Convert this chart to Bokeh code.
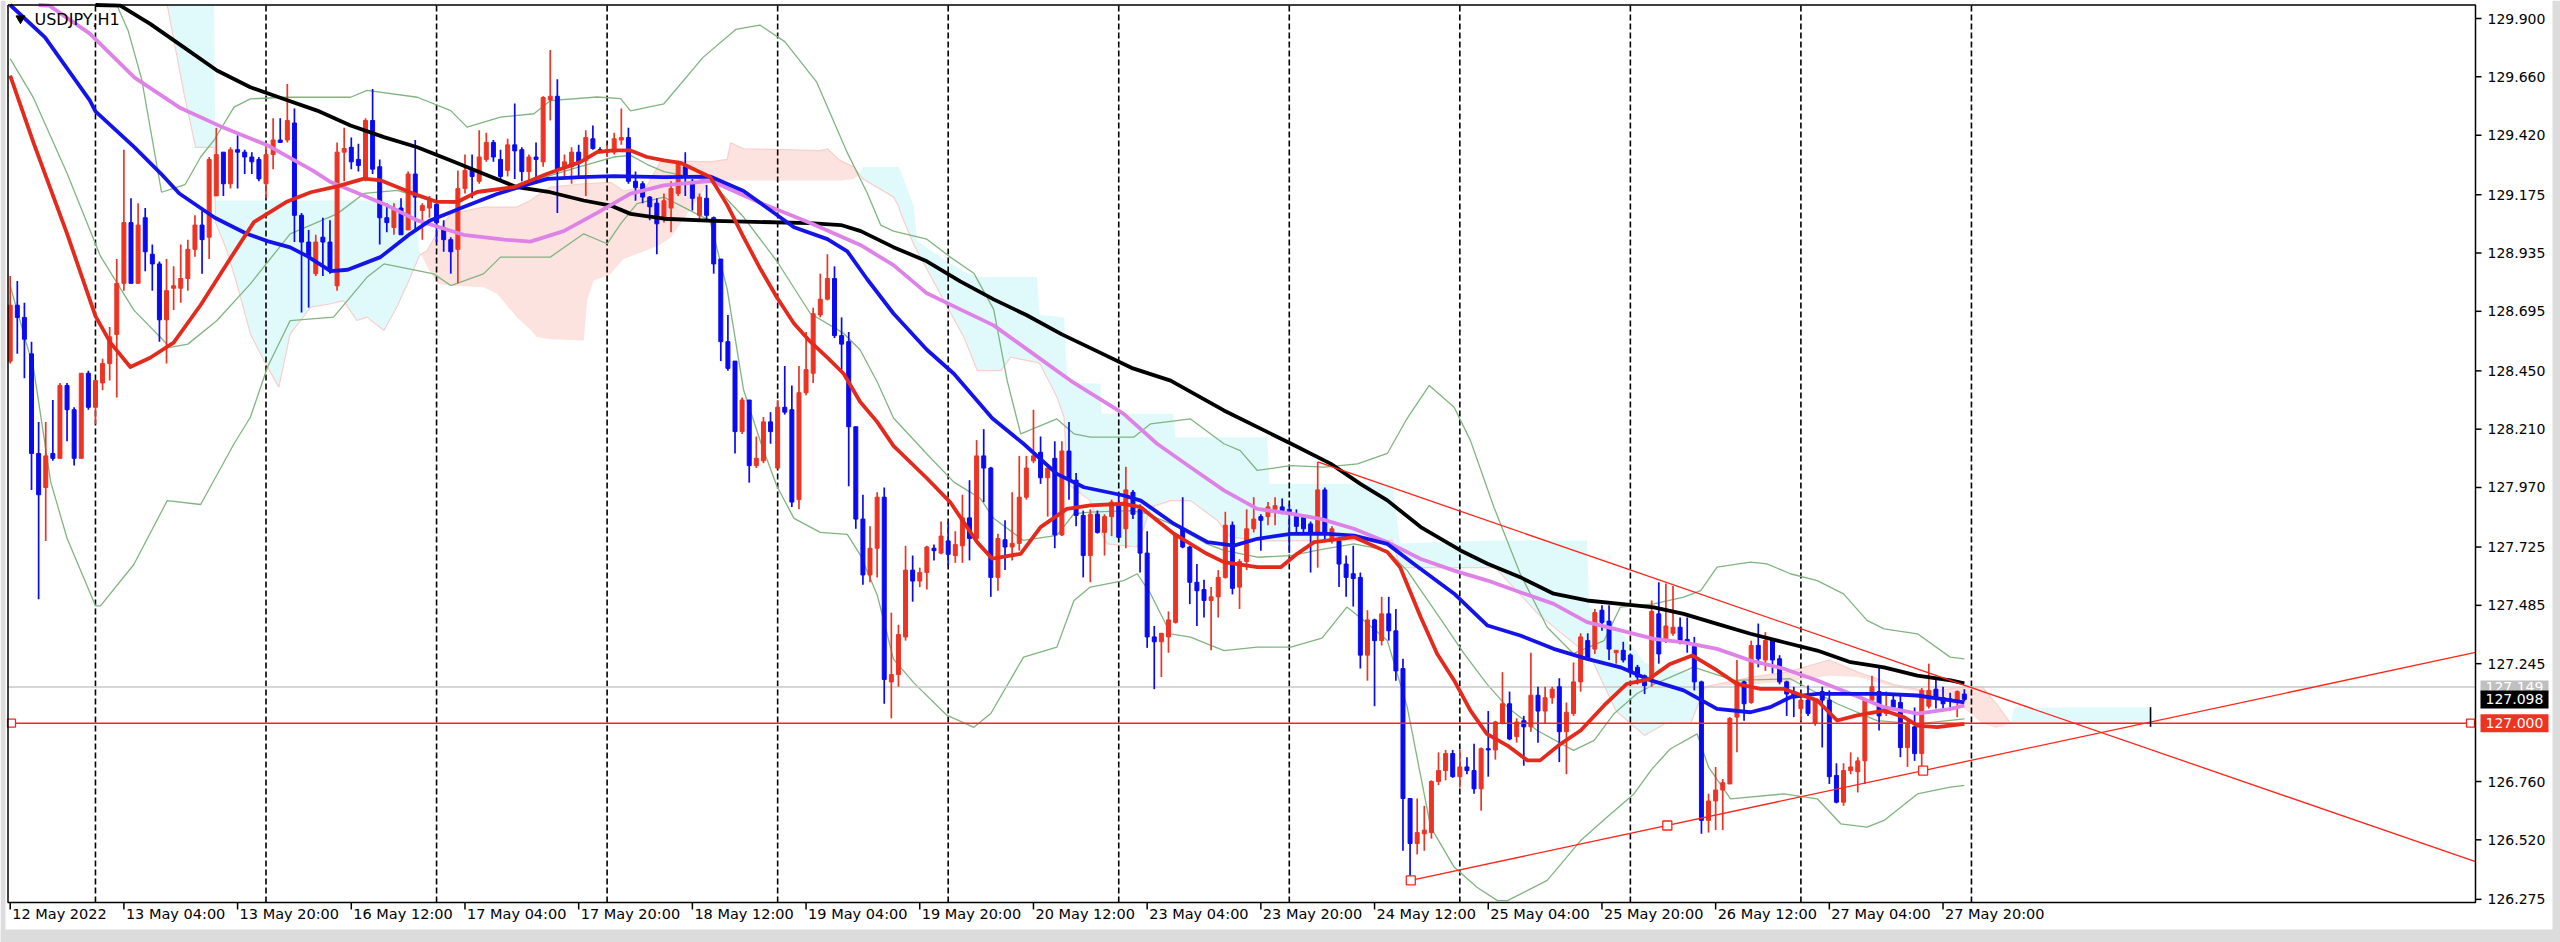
import numpy as np
from bokeh.plotting import figure
from bokeh.models import Range1d
from bokeh.embed import file_html
from bokeh.resources import INLINE
from bokeh.core.properties import value

FONT = "DejaVu Sans"

# ---------------- axis data ----------------
time_tick_bars = [0, 16, 32, 48, 64, 80, 96, 112, 128, 144, 160, 176, 192, 208, 224, 240, 256, 272]
time_tick_labels = ["12 May 2022", "13 May 04:00", "13 May 20:00", "16 May 12:00", "17 May 04:00",
                    "17 May 20:00", "18 May 12:00", "19 May 04:00", "19 May 20:00", "20 May 12:00",
                    "23 May 04:00", "23 May 20:00", "24 May 12:00", "25 May 04:00", "25 May 20:00",
                    "26 May 12:00", "27 May 04:00", "27 May 20:00"]
separator_bars = [12, 36, 60, 84, 108, 132, 156, 180, 204, 228, 252, 276]
price_ticks = [129.900, 129.660, 129.420, 129.175, 128.935, 128.695, 128.450, 128.210,
               127.970, 127.725, 127.485, 127.245, 126.760, 126.520, 126.275]
price_tick_labels = ["129.900", "129.660", "129.420", "129.175", "128.935", "128.695", "128.450",
                     "128.210", "127.970", "127.725", "127.485", "127.245", "126.760", "126.520",
                     "126.275"]

# ---------------- candles (H1) ----------------
opens = [
    128.49, 128.72, 128.67, 128.52, 128.11, 127.97, 128.11, 128.09, 128.39, 128.29,
    128.09, 128.44, 128.30, 128.40, 128.48, 128.60, 128.81, 129.06, 128.81, 129.08,
    128.93, 128.89, 128.66, 128.79, 128.79, 128.83, 128.95, 129.05, 129.00, 129.17,
    129.35, 129.22, 129.36, 129.35, 129.33, 129.32, 129.22, 129.34, 129.40, 129.40,
    129.47, 129.09, 128.98, 128.85, 129.00, 128.98, 128.80, 129.35, 129.37, 129.32,
    129.24, 129.48, 129.29, 129.08, 129.04, 129.12, 129.03, 129.26, 129.11, 129.12,
    129.135, 129.04, 128.99, 128.95, 129.20, 129.275, 129.23, 129.32, 129.39, 129.32,
    129.275, 129.38, 129.36, 129.27, 129.33, 129.31, 129.565, 129.58, 129.29, 129.29,
    129.35, 129.315, 129.405, 129.36, 129.35, 129.35, 129.40, 129.41, 129.23, 129.22,
    129.165, 129.14, 129.08, 129.12, 129.18, 129.29, 129.23, 129.09, 129.16, 129.08,
    128.91, 128.57, 128.49, 128.20, 128.33, 128.06, 128.08, 128.24, 128.05, 128.30,
    128.29, 127.92, 128.36, 128.44, 128.68, 128.745, 128.83, 128.595, 128.57, 128.22,
    127.84, 127.61, 127.72, 127.93, 127.17, 127.20, 127.355, 127.63, 127.585, 127.62,
    127.72, 127.70, 127.75, 127.69, 127.73, 127.845, 127.76, 128.10, 128.05, 127.60,
    127.755, 127.725, 127.74, 127.93, 128.08, 128.115, 128.01, 128.09, 127.775, 128.12,
    128.00, 127.855, 127.69, 127.86, 127.785, 127.85, 127.905, 127.80, 127.95, 127.88,
    127.70, 127.355, 127.335, 127.355, 127.415, 127.80, 127.725, 127.58, 127.55, 127.505,
    127.52, 127.60, 127.815, 127.56, 127.665, 127.80, 127.85, 127.85, 127.88, 127.89,
    127.88, 127.85, 127.85, 127.82, 127.78, 127.96, 127.75, 127.75, 127.655, 127.615,
    127.60, 127.28, 127.425, 127.34, 127.45, 127.38, 127.225, 126.69, 126.505, 126.545,
    126.55, 126.76, 126.805, 126.875, 126.78, 126.82, 126.805, 126.73, 126.895, 126.89,
    127.00, 127.08, 126.945, 127.01, 126.985, 127.115, 127.05, 127.105, 127.15, 126.965,
    127.04, 127.17, 127.34, 127.305, 127.465, 127.42, 127.29, 127.30, 127.28, 127.23,
    127.195, 127.185, 127.45, 127.34, 127.37, 127.395, 127.345, 127.315, 127.17, 126.60,
    126.68, 126.725, 126.75, 127.025, 127.17, 127.085, 127.32, 127.26, 127.34, 127.265,
    127.17, 127.13, 127.06, 127.095, 127.00, 127.13, 127.095, 126.785, 126.675, 126.805,
    126.80, 126.845, 127.095, 127.13, 127.04, 127.095, 127.085, 126.90, 126.985, 126.875,
    127.07, 127.14, 127.105, 127.10, 127.095, 127.12]
highs = [
    128.84, 128.82, 128.73, 128.57, 128.24, 128.24, 128.33, 128.40, 128.40, 128.30,
    128.44, 128.45, 128.41, 128.50, 128.63, 128.91, 129.36, 129.16, 129.14, 129.12,
    128.97, 128.90, 128.91, 128.88, 128.97, 128.99, 129.09, 129.11, 129.33, 129.45,
    129.35, 129.37, 129.42, 129.36, 129.35, 129.33, 129.38, 129.49, 129.49, 129.63,
    129.53, 129.10, 129.03, 129.01, 129.08, 129.07, 129.39, 129.45, 129.41, 129.385,
    129.49, 129.61, 129.32, 129.14, 129.14, 129.16, 129.27, 129.40, 129.14, 129.17,
    129.14, 129.07, 129.00, 129.275, 129.34, 129.34, 129.44, 129.43, 129.40, 129.36,
    129.405, 129.55, 129.37, 129.34, 129.39, 129.58, 129.77, 129.65, 129.34, 129.37,
    129.38, 129.44, 129.46, 129.37, 129.38, 129.43, 129.53, 129.45, 129.27, 129.23,
    129.17, 129.16, 129.18, 129.23, 129.315, 129.35, 129.24, 129.18, 129.215, 129.085,
    128.91, 128.68, 128.49, 128.34, 128.33, 128.18, 128.26, 128.28, 128.33, 128.47,
    128.39, 128.47, 128.61, 128.71, 128.85, 128.93, 128.88, 128.67, 128.61, 128.22,
    127.94, 127.81, 127.95, 127.97, 127.455, 127.405, 127.73, 127.69, 127.64, 127.73,
    127.735, 127.83, 127.83, 127.79, 127.94, 128.00, 128.165, 128.21, 128.055, 127.78,
    127.835, 127.95, 128.10, 128.10, 128.29, 128.18, 128.05, 128.16, 128.16, 128.24,
    128.03, 127.875, 127.88, 127.875, 127.86, 127.92, 127.94, 128.055, 127.96, 127.90,
    127.79, 127.40, 127.37, 127.46, 127.78, 127.93, 127.73, 127.655, 127.59, 127.56,
    127.63, 127.87, 127.83, 127.675, 127.88, 127.93, 127.86, 127.91, 127.93, 127.925,
    127.90, 127.88, 127.855, 127.83, 128.075, 127.97, 127.81, 127.765, 127.69, 127.73,
    127.62, 127.465, 127.43, 127.52, 127.52, 127.47, 127.265, 126.69, 126.69, 126.66,
    126.765, 126.88, 126.89, 126.89, 126.89, 126.86, 126.915, 126.90, 127.05, 127.01,
    127.21, 127.13, 127.02, 127.03, 127.29, 127.15, 127.15, 127.15, 127.185, 127.085,
    127.25, 127.37, 127.37, 127.47, 127.485, 127.485, 127.30, 127.335, 127.285, 127.24,
    127.20, 127.505, 127.58, 127.575, 127.565, 127.435, 127.435, 127.355, 127.175, 126.71,
    126.82, 126.77, 127.025, 127.26, 127.175, 127.34, 127.41, 127.375, 127.35, 127.28,
    127.175, 127.15, 127.12, 127.155, 127.10, 127.15, 127.135, 126.835, 126.835, 126.88,
    126.86, 127.10, 127.195, 127.235, 127.13, 127.12, 127.12, 127.02, 127.065, 127.145,
    127.245, 127.18, 127.15, 127.125, 127.135, 127.14]
lows = [
    128.48, 128.52, 128.42, 127.96, 127.51, 127.75, 128.08, 128.09, 128.16, 128.06,
    128.09, 128.29, 128.23, 128.37, 128.41, 128.34, 128.78, 128.81, 128.81, 128.86,
    128.78, 128.57, 128.48, 128.70, 128.73, 128.78, 128.92, 128.85, 128.91, 129.17,
    129.17, 129.20, 129.20, 129.26, 129.26, 129.23, 129.16, 129.28, 129.39, 129.39,
    128.98, 128.69, 128.71, 128.84, 128.84, 128.85, 128.78, 129.23, 129.28, 129.27,
    129.23, 129.26, 128.97, 129.02, 129.01, 129.01, 129.03, 129.03, 128.99, 129.08,
    128.98, 128.94, 128.85, 128.81, 129.18, 129.16, 129.22, 129.31, 129.31, 129.24,
    129.25, 129.24, 129.23, 129.22, 129.22, 129.29, 129.48, 129.10, 129.25, 129.22,
    129.24, 129.17, 129.36, 129.35, 129.33, 129.34, 129.38, 129.22, 129.15, 129.14,
    129.07, 128.93, 129.06, 129.02, 129.17, 129.17, 129.11, 129.07, 129.065, 128.85,
    128.49, 128.45, 128.11, 128.19, 127.99, 128.05, 128.07, 128.15, 128.05, 128.27,
    127.89, 127.88, 128.35, 128.40, 128.67, 128.74, 128.585, 128.455, 127.975, 127.80,
    127.57, 127.58, 127.60, 127.08, 127.02, 127.15, 127.34, 127.50, 127.56, 127.55,
    127.67, 127.695, 127.65, 127.66, 127.66, 127.67, 127.755, 127.91, 127.52, 127.545,
    127.63, 127.67, 127.71, 127.92, 128.07, 127.985, 127.85, 127.72, 127.77, 127.92,
    127.81, 127.60, 127.58, 127.78, 127.69, 127.77, 127.765, 127.72, 127.84, 127.62,
    127.31, 127.14, 127.19, 127.29, 127.41, 127.72, 127.49, 127.40, 127.435, 127.30,
    127.435, 127.595, 127.53, 127.47, 127.63, 127.785, 127.71, 127.815, 127.815, 127.86,
    127.70, 127.785, 127.785, 127.62, 127.64, 127.75, 127.74, 127.56, 127.52, 127.48,
    127.225, 127.175, 127.07, 127.32, 127.34, 127.175, 126.475, 126.353, 126.46, 126.475,
    126.525, 126.745, 126.765, 126.775, 126.735, 126.79, 126.71, 126.64, 126.78, 126.85,
    126.995, 126.93, 126.92, 126.825, 126.965, 126.92, 127.00, 127.08, 126.84, 126.79,
    127.03, 127.13, 127.26, 127.285, 127.38, 127.26, 127.245, 127.25, 127.20, 127.16,
    127.12, 127.15, 127.245, 127.33, 127.36, 127.325, 127.29, 127.135, 126.545, 126.55,
    126.56, 126.56, 126.75, 126.88, 127.01, 127.08, 127.23, 127.215, 127.205, 127.16,
    127.03, 127.025, 127.01, 127.03, 126.99, 126.90, 126.75, 126.67, 126.66, 126.79,
    126.715, 126.75, 127.085, 126.97, 127.03, 127.06, 126.86, 126.82, 126.845, 126.81,
    127.06, 127.06, 127.06, 127.065, 127.025, 127.09]
closes = [
    128.72, 128.67, 128.58, 128.11, 127.94, 128.10, 128.09, 128.39, 128.29, 128.09,
    128.44, 128.30, 128.41, 128.48, 128.59, 128.81, 129.06, 128.81, 129.05, 128.94,
    128.89, 128.66, 128.78, 128.80, 128.83, 128.95, 129.05, 128.99, 129.32, 129.34,
    129.22, 129.36, 129.35, 129.33, 129.31, 129.24, 129.34, 129.40, 129.39, 129.48,
    129.09, 128.98, 128.92, 128.98, 128.98, 128.86, 129.35, 129.365, 129.31, 129.295,
    129.48, 129.28, 129.08, 129.06, 129.12, 129.01, 129.26, 129.165, 129.13, 129.15,
    129.06, 128.99, 128.94, 129.20, 129.275, 129.25, 129.33, 129.39, 129.33, 129.25,
    129.38, 129.355, 129.27, 129.33, 129.32, 129.575, 129.58, 129.28, 129.31, 129.35,
    129.31, 129.41, 129.365, 129.35, 129.36, 129.405, 129.41, 129.23, 129.205, 129.165,
    129.125, 129.055, 129.15, 129.20, 129.305, 129.25, 129.16, 129.165, 129.09, 128.89,
    128.57, 128.46, 128.20, 128.33, 128.06, 128.09, 128.24, 128.20, 128.30, 128.28,
    127.91, 128.36, 128.455, 128.685, 128.745, 128.83, 128.595, 128.56, 128.22, 127.84,
    127.61, 127.72, 127.93, 127.18, 127.20, 127.365, 127.63, 127.585, 127.62, 127.725,
    127.71, 127.77, 127.695, 127.735, 127.845, 127.76, 128.10, 128.05, 127.60, 127.76,
    127.725, 127.74, 127.93, 128.05, 128.10, 128.01, 128.05, 127.775, 128.12, 128.00,
    127.855, 127.69, 127.86, 127.785, 127.85, 127.91, 127.765, 127.96, 127.86, 127.70,
    127.355, 127.335, 127.37, 127.425, 127.775, 127.725, 127.58, 127.545, 127.505, 127.52,
    127.60, 127.815, 127.555, 127.665, 127.80, 127.84, 127.835, 127.89, 127.895, 127.875,
    127.87, 127.81, 127.80, 127.78, 127.96, 127.78, 127.80, 127.655, 127.60, 127.595,
    127.28, 127.425, 127.34, 127.45, 127.38, 127.215, 126.69, 126.505, 126.55, 126.56,
    126.76, 126.805, 126.875, 126.78, 126.82, 126.805, 126.73, 126.895, 126.89, 127.005,
    127.08, 126.935, 127.005, 126.985, 127.115, 127.05, 127.105, 127.14, 126.965, 127.045,
    127.17, 127.355, 127.27, 127.455, 127.415, 127.305, 127.30, 127.26, 127.215, 127.19,
    127.155, 127.46, 127.285, 127.40, 127.395, 127.34, 127.335, 127.17, 126.60, 126.68,
    126.725, 126.755, 127.02, 127.17, 127.08, 127.32, 127.265, 127.34, 127.26, 127.17,
    127.12, 127.115, 127.095, 127.04, 127.095, 127.095, 126.78, 126.675, 126.805, 126.82,
    126.845, 127.095, 127.15, 127.03, 127.06, 127.065, 126.90, 126.995, 126.875, 127.135,
    127.135, 127.105, 127.08, 127.095, 127.13, 127.098]

# ---------------- indicator lines ----------------
ma_fast_x = [0, 3.3, 8.0, 12.0, 14.1, 16.9, 19.7, 23.0, 26.8, 30.5, 34.3, 39.0, 42.3, 46.0, 49.8,
             52.1, 56.8, 60.1, 62.9, 65.7, 70.9, 75.6, 80.2, 82.6, 84.9, 87.3, 89.6, 92.0, 94.3,
             98.5, 100.9, 103.2, 105.6, 107.9, 110.3, 112.6, 115.0, 117.3, 119.6, 122.0, 124.3,
             129.0, 132.3, 136.1, 138.2, 142.2, 145.0, 148.7, 152.0, 156.7, 159.1, 161.4, 163.8,
             168.4, 170.8, 175.5, 178.8, 181.1, 183.5, 185.5, 189.1, 193.8, 195.6, 198.5, 200.8,
             203.2, 205.5, 207.8, 210.7, 213.5, 215.3, 218.2, 221.0, 224.3, 227.5, 230.5, 233.6,
             236.7, 240.2, 243.0, 246.3, 249.6, 251.5, 254.3, 257.1, 259.9, 263.7, 266.5, 268.4,
             271.2, 275.0]
ma_fast_y = [129.665, 129.387, 129.015, 128.675, 128.566, 128.466, 128.504, 128.566, 128.721,
             128.891, 129.062, 129.147, 129.185, 129.209, 129.241, 129.234, 129.179, 129.145,
             129.145, 129.186, 129.206, 129.261, 129.309, 129.350, 129.357, 129.357, 129.330,
             129.316, 129.306, 129.248, 129.133, 129.000, 128.868, 128.752, 128.645, 128.570,
             128.504, 128.438, 128.323, 128.240, 128.141, 128.008, 127.909, 127.744, 127.677,
             127.697, 127.807, 127.882, 127.896, 127.903, 127.889, 127.834, 127.779, 127.697,
             127.663, 127.642, 127.642, 127.697, 127.745, 127.752, 127.766, 127.704, 127.642,
             127.436, 127.286, 127.176, 127.052, 126.956, 126.908, 126.847, 126.847, 126.915,
             126.970, 127.073, 127.162, 127.180, 127.244, 127.279, 127.217, 127.162, 127.141,
             127.141, 127.121, 127.094, 127.011, 127.032, 127.052, 127.025, 126.990, 126.984,
             126.997]

ma_mid_x = [0, 4.9, 11.2, 12.0, 17.5, 21.2, 23.8, 28.8, 33.2, 36.2, 39.4, 41.8, 45.1, 47.5, 52.1,
            56.3, 59.1, 63.8, 68.5, 73.2, 75.6, 80.3, 84.9, 92.0, 98.6, 103.2, 110.3, 115.0,
            117.8, 120.6, 124.3, 129.0, 132.8, 138.2, 142.6, 147.3, 151.1, 156.7, 159.1, 163.8,
            168.5, 172.2, 175.5, 180.2, 185.0, 189.1, 193.8, 197.5, 203.2, 207.9, 212.5, 217.2,
            221.9, 226.6, 231.0, 235.5, 240.2, 244.9, 247.7, 250.5, 254.3, 259.0, 263.7, 268.4,
            273.1, 275.0]
ma_mid_y = [129.990, 129.822, 129.563, 129.518, 129.370, 129.262, 129.180, 129.080, 129.015,
            128.984, 128.958, 128.922, 128.860, 128.866, 128.918, 129.014, 129.069, 129.124,
            129.178, 129.220, 129.240, 129.247, 129.251, 129.247, 129.249, 129.190, 129.041,
            128.992, 128.942, 128.827, 128.686, 128.537, 128.438, 128.255, 128.150, 128.026,
            127.971, 127.937, 127.916, 127.820, 127.745, 127.731, 127.759, 127.779, 127.780,
            127.772, 127.738, 127.656, 127.533, 127.402, 127.361, 127.306, 127.265, 127.230,
            127.175, 127.135, 127.059, 127.045, 127.066, 127.107, 127.121, 127.121, 127.121,
            127.114, 127.094, 127.086]

ma_slow_x = [4.0, 5.5, 11.2, 17.5, 23.8, 30.0, 36.3, 42.6, 45.1, 52.6, 57.3, 63.8, 69.5, 73.2,
             77.9, 82.6, 87.3, 92.0, 98.6, 105.6, 112.6, 119.7, 124.3, 129.0, 133.7, 138.4, 143.5,
             149.2, 156.7, 161.4, 166.1, 170.8, 175.5, 180.2, 184.4, 189.1, 193.8, 198.5, 203.2,
             207.9, 212.5, 217.2, 221.9, 226.6, 231.3, 235.5, 240.2, 244.9, 249.6, 254.3, 259.0,
             263.7, 268.4, 273.1, 275.0]
ma_slow_y = [130.000, 129.953, 129.838, 129.657, 129.534, 129.451, 129.377, 129.274, 129.227,
             129.137, 129.069, 129.010, 128.990, 128.982, 129.025, 129.100, 129.179, 129.213,
             129.232, 129.141, 129.058, 128.967, 128.885, 128.769, 128.703, 128.637, 128.530,
             128.410, 128.273, 128.150, 128.053, 127.958, 127.882, 127.862, 127.841, 127.800,
             127.745, 127.676, 127.628, 127.587, 127.539, 127.491, 127.416, 127.382, 127.347,
             127.333, 127.306, 127.258, 127.224, 127.176, 127.121, 127.066, 127.039, 127.059,
             127.073]

ma_long_x = [12.0, 15.5, 19.7, 24.4, 29.1, 33.8, 38.5, 43.2, 47.9, 52.6, 57.3, 62.0, 66.6, 71.3,
             76.0, 80.7, 84.5, 87.3, 92.0, 99.0, 112.6, 116.9, 119.7, 124.3, 129.0, 133.7, 138.4,
             143.0, 148.0, 153.0, 158.0, 163.3, 170.8, 180.2, 185.8, 190.0, 193.8, 198.5, 204.1,
             207.9, 212.5, 217.2, 221.9, 226.6, 231.3, 235.5, 240.2, 244.9, 249.6, 254.3, 259.0,
             263.7, 268.4, 273.1, 275.0]
ma_long_y = [130.060, 129.953, 129.878, 129.782, 129.686, 129.617, 129.569, 129.521, 129.460,
             129.412, 129.370, 129.316, 129.261, 129.206, 129.185, 129.151, 129.130, 129.096,
             129.076, 129.067, 129.058, 129.050, 129.025, 128.959, 128.901, 128.818, 128.744,
             128.680, 128.600, 128.530, 128.460, 128.410, 128.287, 128.151, 128.068, 127.985,
             127.917, 127.807, 127.711, 127.656, 127.601, 127.533, 127.505, 127.491, 127.477,
             127.450, 127.409, 127.368, 127.333, 127.299, 127.251, 127.230, 127.196, 127.176,
             127.164]

bb_up_x = [15.0, 16.6, 18.5, 21.3, 24.6, 26.8, 28.7, 31.5, 33.8, 38.5, 47.9, 50.2, 57.3, 62.0,
           64.3, 69.0, 73.7, 76.0, 82.6, 85.9, 87.3, 92.0, 97.5, 102.1, 105.5, 109.0, 113.5,
           117.8, 120.6, 122.5, 124.3, 129.0, 132.3, 135.6, 138.4, 140.3, 142.2, 147.3, 149.7,
           152.0, 158.1, 160.5, 166.1, 170.8, 173.1, 175.5, 180.2, 184.9, 189.6, 193.8, 196.5,
           199.7, 203.2, 205.5, 208.8, 212.5, 216.3, 220.0, 224.3, 226.6, 231.3, 235.5, 237.9,
           240.2, 244.9, 247.2, 250.5, 254.3, 258.0, 261.3, 263.7, 268.4, 273.0, 275.0]
bb_up_y = [130.050, 129.850, 129.650, 129.185, 129.216, 129.330, 129.400, 129.535, 129.569,
           129.576, 129.576, 129.604, 129.576, 129.521, 129.453, 129.494, 129.508, 129.562,
           129.577, 129.570, 129.520, 129.549, 129.740, 129.855, 129.873, 129.805, 129.638,
           129.348, 129.182, 129.050, 129.025, 128.992, 128.918, 128.852, 128.703, 128.410,
           128.191, 128.252, 128.191, 128.177, 128.177, 128.232, 128.252, 128.150, 128.122,
           128.040, 128.060, 128.054, 128.067, 128.110, 128.250, 128.390, 128.300, 128.163,
           127.889, 127.615, 127.395, 127.286, 127.340, 127.478, 127.491, 127.519, 127.546,
           127.642, 127.663, 127.656, 127.615, 127.587, 127.532, 127.423, 127.388, 127.368,
           127.272, 127.265]

bb_mid_x = [0, 3.3, 8.0, 12.7, 17.4, 22.5, 25.0, 29.1, 33.8, 39.4, 46.0, 49.8, 54.5, 59.1,
            62.9, 66.2, 70.9, 75.6, 80.2, 84.9, 87.3, 89.6, 92.0, 98.5, 103.2, 107.9, 112.6,
            117.3, 119.6, 122.0, 124.3, 129.0, 132.8, 136.5, 138.4, 142.6, 147.3, 149.7, 152.0,
            157.7, 160.0, 163.8, 168.4, 170.8, 175.5, 180.2, 184.6, 189.1, 193.8, 196.6, 200.8,
            204.6, 207.8, 210.7, 214.9, 220.0, 222.9, 225.7, 228.9, 231.3, 236.9, 242.6, 250.5,
            257.1, 262.7, 268.4, 275.0]
bb_mid_y = [129.735, 129.572, 129.263, 128.922, 128.700, 128.547, 128.560, 128.657, 128.808,
            129.014, 129.096, 129.180, 129.193, 129.151, 129.138, 129.193, 129.206, 129.250,
            129.290, 129.330, 129.337, 129.300, 129.270, 129.232, 129.083, 128.901, 128.686,
            128.604, 128.537, 128.405, 128.256, 128.108, 127.992, 127.926, 127.843, 127.752,
            127.773, 127.862, 127.869, 127.875, 127.862, 127.814, 127.738, 127.711, 127.683,
            127.690, 127.715, 127.738, 127.711, 127.628, 127.450, 127.286, 127.162, 127.066,
            126.970, 126.888, 126.929, 127.039, 127.121, 127.160, 127.231, 127.176, 127.183,
            127.080, 127.011, 126.997, 127.018]

bb_lo_x = [0, 3.3, 5.7, 8.0, 12.0, 12.7, 17.4, 22.1, 26.8, 31.5, 33.8, 36.2, 39.4, 45.5, 50.2,
           52.6, 59.6, 62.0, 66.6, 69.0, 76.0, 80.7, 84.0, 85.9, 88.2, 92.0, 98.5, 100.9, 103.2,
           105.6, 107.9, 110.3, 114.0, 117.8, 119.6, 122.0, 124.3, 127.2, 131.8, 135.6, 138.0,
           142.6, 147.3, 149.7, 152.0, 156.7, 158.6, 160.5, 163.3, 166.1, 170.8, 175.5, 180.2,
           184.6, 188.1, 190.5, 193.8, 196.6, 199.9, 203.2, 206.4, 209.3, 210.7, 216.3, 221.0,
           224.7, 228.5, 231.0, 233.6, 237.4, 239.0, 242.1, 249.6, 254.3, 257.6, 261.3, 263.7,
           268.4, 273.0, 275.0]
bb_lo_y = [128.800, 128.458, 127.993, 127.761, 127.483, 127.483, 127.653, 127.916, 127.900,
           128.150, 128.259, 128.465, 128.657, 128.671, 128.835, 128.890, 128.849, 128.801,
           128.849, 128.918, 128.918, 129.014, 128.973, 129.055, 129.138, 129.165, 129.067,
           128.785, 128.372, 128.157, 127.975, 127.843, 127.785, 127.777, 127.694, 127.529,
           127.264, 127.165, 127.033, 126.983, 127.040, 127.272, 127.313, 127.505, 127.560,
           127.587, 127.615, 127.532, 127.368, 127.354, 127.299, 127.313, 127.313, 127.350,
           127.478, 127.423, 127.340, 127.066, 126.572, 126.408, 126.325, 126.270, 126.270,
           126.353, 126.517, 126.613, 126.709, 126.810, 126.894, 126.956, 126.819, 126.689,
           126.709, 126.689, 126.586, 126.572, 126.600, 126.709, 126.737, 126.744]

# Ichimoku cloud (Senkou span A / B, already shifted 26 bars ahead)
cloud_x = [0, 22.1, 24.4, 26.1, 28.7, 28.9, 30.5, 31.9, 33.8, 35.7, 37.8, 39.4, 42.3, 45.1, 46.9,
           48.8, 50.2, 52.6, 54.4, 56.3, 57.3, 57.5, 57.8, 58.7, 60.1, 62.0, 66.6, 68.5, 71.3,
           73.2, 74.1, 76.0, 80.7, 81.2, 82.1, 84.5, 86.3, 89.6, 91.5, 93.0, 98.5, 100.9, 101.4,
           103.2, 114.0, 115.0, 116.8, 118.7, 119.5, 120.0, 124.3, 125.0, 125.3, 127.2, 127.6,
           131.9, 134.2, 136.1, 139.4, 140.8, 144.5, 144.9, 147.3, 148.3, 148.8, 152.0, 153.4,
           153.6, 154.4, 158.6, 160.5, 163.3, 163.7, 164.0, 166.1, 169.9, 171.7, 176.9, 177.2,
           194.5, 195.6, 209.0, 215.0, 221.9, 222.2, 226.0, 230.0, 233.0, 236.5, 238.5, 245.0,
           250.0, 256.0, 260.0, 265.0, 270.0, 275.0, 277.5, 279.5, 281.5, 282.0, 301.2]
span_a = [130.30, 130.00, 129.60, 129.37, 129.37, 129.06, 128.945, 128.808, 128.602, 128.493,
          128.383, 128.602, 128.712, 128.726, 128.739, 128.657, 128.671, 128.616, 128.712,
          128.835, 128.904, 128.92, 128.93, 128.945, 129.02, 129.096, 129.124, 129.124, 129.124,
          129.151, 129.17, 129.206, 129.22, 129.22, 129.222, 129.226, 129.19, 129.21, 129.31,
          129.314, 129.31, 129.32, 129.389, 129.364, 129.356, 129.364, 129.315, 129.29, 129.26,
          129.24, 129.166, 129.13, 129.10, 128.967, 128.945, 128.712, 128.589, 128.451, 128.451,
          128.506, 128.485, 128.48, 128.342, 128.26, 127.985, 127.916, 127.80, 127.78, 127.738,
          127.725, 127.889, 127.916, 127.916, 127.916, 127.916, 127.834, 127.766, 127.75, 127.75,
          127.752, 127.64, 127.64, 127.45, 127.285, 127.285, 127.05, 126.95, 127.00, 127.00,
          127.15, 127.19, 127.21, 127.26, 127.21, 127.16, 127.13, 127.15, 127.15, 127.08,
          127.00, 127.00, 127.00]
span_b = [130.40, 130.40, 130.40, 130.40, 130.40, 129.151, 129.151, 129.151, 129.151, 129.151,
          129.151, 129.151, 129.151, 129.151, 129.151, 129.151, 129.151, 129.151, 129.151,
          129.151, 129.151, 128.95, 128.93, 128.877, 128.808, 128.80, 128.794, 128.767, 128.671,
          128.62, 128.589, 128.58, 128.575, 128.74, 128.822, 128.849, 128.91, 128.946, 128.97,
          129.00, 129.232, 129.232, 129.232, 129.232, 129.232, 129.232, 129.232, 129.24, 129.26,
          129.29, 129.29, 129.29, 129.274, 129.123, 128.985, 128.90, 128.86, 128.836, 128.836,
          128.836, 128.836, 128.68, 128.675, 128.67, 128.40, 128.398, 128.397, 128.273, 128.273,
          128.273, 128.273, 128.273, 128.273, 128.177, 128.177, 128.177, 128.177, 128.177,
          127.985, 127.985, 127.74, 127.752, 127.752, 127.752, 127.478, 127.40, 127.25, 127.22,
          127.21, 127.15, 127.16, 127.17, 127.195, 127.19, 127.15, 127.12, 127.06, 127.00,
          126.98, 127.00, 127.065, 127.065]

# objects drawn on the chart
trend_down_x = [184.0, 346.93]
trend_down_y = [128.075, 126.430]
trend_up_x = [197.1, 269.2, 346.93]
trend_up_y = [126.353, 126.805, 127.291]
trend_up_marks_x = [197.1, 233.2, 269.2]
trend_up_marks_y = [126.353, 126.579, 126.805]
level_price = 127.000
ask_price = 127.149
bid_price = 127.098
box_prices = [ask_price, bid_price, level_price]
box_labels = ["127.149", "127.098", "127.000"]
box_colors = ["#c0c0c0", "#000000", "#ef3322"]
box_half_px = [6.6, 9.0, 9.0]

# ---------------- layout helpers (pixel -> data, for frame decorations only) ----------------
W, H = 2560, 942
BAR_PX, BAR0_PX = 7.106, 9.7          # pixels per bar, x of bar 0
PRICE_PX, P_REF, P_REF_PX = 243.0, 129.9, 18.0   # pixels per 1.000 JPY


def bx(px):
    return (px - BAR0_PX) / BAR_PX


def py(px):
    return P_REF - (px - P_REF_PX) / PRICE_PX


CH_L, CH_R = bx(7.5), bx(2475.0)
CH_T, CH_B = py(4.5), py(902.0)

p = figure(width=W, height=H, x_range=Range1d(bx(0), bx(W)), y_range=Range1d(py(H), py(0)),
           min_border=0, x_axis_location=None, y_axis_location=None,
           output_backend="svg", toolbar_location=None)
p.background_fill_color = "white"
p.border_fill_color = "white"
p.outline_line_color = None
p.grid.visible = False

# window edges
EDGE = "#dcdcdc"
p.quad(left=[bx(0), bx(2552), bx(0)], right=[bx(5), bx(W), bx(W)],
       bottom=[py(H), py(H), py(H)], top=[py(0), py(0), py(929)],
       fill_color=EDGE, line_color=None)

# ---- Ichimoku cloud ----
CYAN = "#e0fafc"
PINK = "#fce3e0"
ca = np.array(span_a)
cb = np.array(span_b)
ctop = np.minimum(np.maximum(ca, cb), CH_T)
ca_c = np.minimum(ca, CH_T)
cb_c = np.minimum(cb, CH_T)
p.varea(x=cloud_x, y1=ca_c, y2=ctop, fill_color=CYAN)
p.varea(x=cloud_x, y1=cb_c, y2=ctop, fill_color=PINK)
p.line(cloud_x, ca_c, line_color="#f7cfcb", line_width=1.2)

# ---- period separators ----
p.segment(x0=separator_bars, y0=CH_B, x1=separator_bars, y1=CH_T,
          line_color="black", line_width=1.6, line_dash="6 3")

# ---- Bollinger bands ----
BBC = "#80b480"
p.line(bb_up_x, np.minimum(bb_up_y, CH_T), line_color=BBC, line_width=1.3)
p.line(bb_mid_x, bb_mid_y, line_color=BBC, line_width=1.3)
p.line(bb_lo_x, bb_lo_y, line_color=BBC, line_width=1.3)

# ---- ask line ----
p.segment(x0=[CH_L], y0=[ask_price], x1=[CH_R], y1=[ask_price],
          line_color="#c8c8c8", line_width=1.5)

# ---- candles ----
UP = "#ec3424"
DOWN = "#0a0af2"
o = np.array(opens); h = np.array(highs); l = np.array(lows); c = np.array(closes)
idx = np.arange(len(o))
colors = [UP if cc >= oo else DOWN for oo, cc in zip(o, c)]
p.segment(x0=idx, y0=l, x1=idx, y1=h, line_color=colors, line_width=1.7)
p.vbar(x=idx, width=0.56, top=np.maximum(o, c), bottom=np.minimum(o, c),
       fill_color=colors, line_color=colors, line_width=1)

# ---- moving averages ----
p.line(ma_long_x, np.minimum(ma_long_y, CH_T), line_color="#000000", line_width=3.8, line_join="round")
p.line(ma_slow_x, np.minimum(ma_slow_y, CH_T), line_color="#de82e8", line_width=3.8, line_join="round")
p.line(ma_mid_x, np.minimum(ma_mid_y, CH_T), line_color="#1414ea", line_width=3.8, line_join="round")
p.line(ma_fast_x, ma_fast_y, line_color="#e42a1c", line_width=3.8, line_join="round")

# ---- trend lines / horizontal level ----
RED = "#ff2419"
p.line(trend_down_x, trend_down_y, line_color=RED, line_width=1.3)
p.line(trend_up_x, trend_up_y, line_color=RED, line_width=1.3)
p.segment(x0=[CH_L], y0=[level_price], x1=[CH_R], y1=[level_price],
          line_color=RED, line_width=1.4)
p.scatter(trend_up_marks_x, trend_up_marks_y, marker="square", size=9,
          line_color=RED, fill_color="white", line_width=1.3)
p.scatter([bx(11), bx(2470)], [level_price, level_price], marker="square", size=8,
          line_color=RED, fill_color="white", line_width=1.3)
p.segment(x0=[301.2], y0=[126.985], x1=[301.2], y1=[127.066], line_color="black", line_width=1.6)

# ---- chart border ----
p.line(x=[CH_L, CH_R, CH_R, CH_L, CH_L], y=[CH_T, CH_T, CH_B, CH_B, CH_T],
       line_color="black", line_width=1.5)

# ---- title ----
p.scatter([bx(20)], [py(18)], marker="inverted_triangle", size=9, color="black")
p.text(x=[bx(34)], y=[py(18.5)], text=["USDJPY,H1"], text_font=value(FONT),
       text_font_size="16px", text_baseline="middle", text_align="left", text_color="black")

# ---- price axis (right) ----
p.segment(x0=[CH_R] * len(price_ticks), y0=price_ticks, x1=[bx(2481)] * len(price_ticks),
          y1=price_ticks, line_color="black", line_width=1.5)
p.text(x=[bx(2487)] * len(price_ticks), y=price_ticks, text=price_tick_labels,
       text_font=value(FONT), text_font_size="14px", text_baseline="middle",
       text_align="left", text_color="black")

# ---- time axis (bottom) ----
p.segment(x0=time_tick_bars, y0=[CH_B] * len(time_tick_bars), x1=time_tick_bars,
          y1=[py(909)] * len(time_tick_bars), line_color="black", line_width=1.5)
p.text(x=time_tick_bars, y=[py(905)] * len(time_tick_bars), text=time_tick_labels,
       x_offset=2, text_font=value(FONT), text_font_size="14.5px", text_baseline="top",
       text_align="left", text_color="black")

# ---- price boxes ----
for price, txt, bg, hp in zip(box_prices, box_labels, box_colors, box_half_px):
    p.quad(left=[bx(2480)], right=[bx(2548)], top=[price + hp / PRICE_PX],
           bottom=[price - hp / PRICE_PX], fill_color=bg, line_color=None)
    p.text(x=[bx(2485)], y=[price], text=[txt], text_font=value(FONT), text_font_size="14px",
           text_baseline="middle", text_align="left", text_color="white")

open("out.html", "w").write(file_html(p, INLINE))
